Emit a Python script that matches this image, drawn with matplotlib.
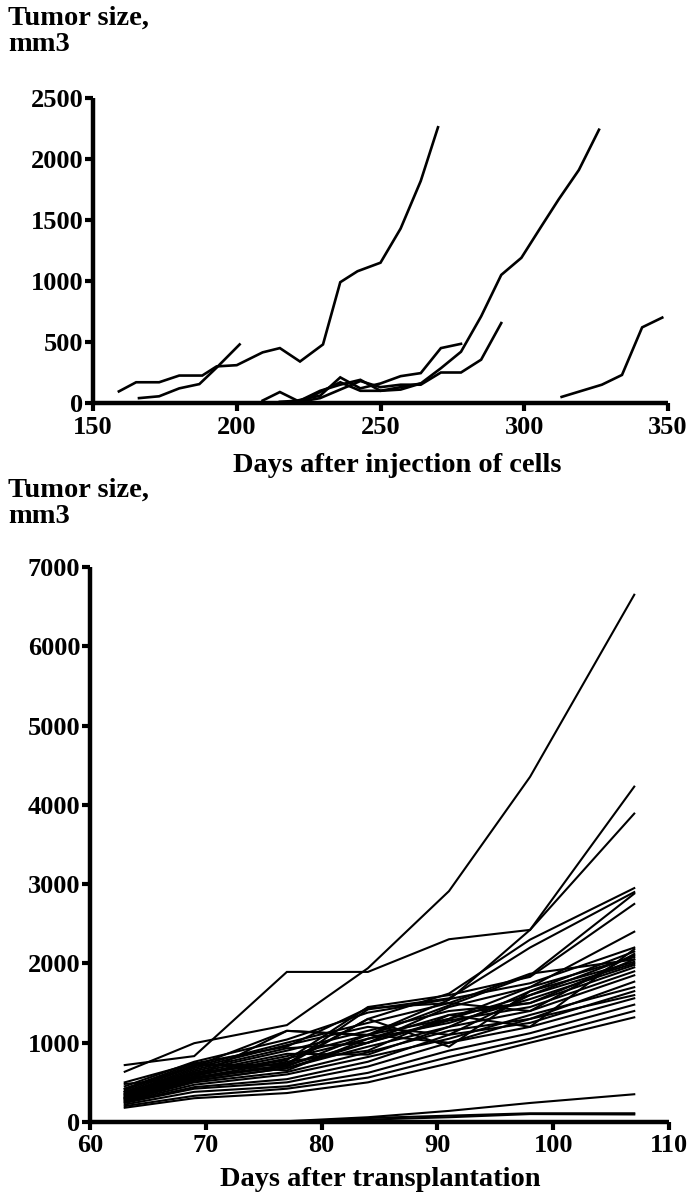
import matplotlib
matplotlib.use("Agg")
import matplotlib.pyplot as plt
import numpy as np

plt.rcParams['font.family'] = ['Liberation Serif', 'DejaVu Serif']
plt.rcParams['font.weight'] = 'bold'

# ---------------- Top panel data (days after injection) ----------------
top_x_ticks = [150, 200, 250, 300, 350]
top_y_ticks = [0, 500, 1000, 1500, 2000, 2500]

a_days = [159, 165, 173, 180, 188, 193, 200, 209, 215, 222, 230, 236, 242, 250, 257, 264, 270]
a_vals = [95, 170, 170, 225, 225, 300, 310, 415, 450, 340, 480, 990, 1080, 1150, 1430, 1820, 2260]
b_days = [166, 173, 180, 187, 193, 201]
b_vals = [40, 55, 120, 155, 290, 480]
c_days = [209, 215, 221, 229, 236, 243, 250, 257, 264, 271, 278]
c_vals = [20, 90, 20, 60, 210, 120, 160, 220, 245, 450, 485]
d_days = [222, 229, 236, 243, 250, 257, 264, 271, 278, 285, 292]
d_vals = [10, 40, 110, 180, 130, 150, 150, 250, 250, 355, 655]
e_days = [215, 222, 229, 236, 243, 250, 257, 264, 271, 278, 285, 292, 299, 306, 312, 319, 326]
e_vals = [10, 20, 100, 150, 190, 100, 110, 160, 285, 420, 710, 1050, 1190, 1450, 1670, 1910, 2240]
f_days = [313, 320, 327, 334, 341, 348]
f_vals = [50, 100, 150, 230, 620, 700]
g_days = [222, 229, 236, 243, 250, 257, 264]
g_vals = [0, 90, 170, 100, 100, 130, 160]

top_series = [(a_days, a_vals), (b_days, b_vals), (c_days, c_vals), (d_days, d_vals),
              (e_days, e_vals), (f_days, f_vals), (g_days, g_vals)]

# ---------------- Bottom panel data (days after transplantation) ----------------
bot_days = [63, 69, 77, 84, 91, 98, 107]
bot_x_ticks = [60, 70, 80, 90, 100, 110]
bot_y_ticks = [0, 1000, 2000, 3000, 4000, 5000, 6000, 7000]

s01 = [634, 994, 1222, 1940, 2912, 4353, 6650]
s02 = [718, 831, 1893, 1893, 2305, 2423, 4230]
s03 = [380, 560, 700, 1100, 1540, 2423, 3890]
s04 = [350, 620, 740, 1300, 1620, 2300, 2950]
s05 = [300, 560, 720, 1420, 1560, 2200, 2900]
s06 = [420, 700, 1150, 1090, 1470, 1850, 2880]
s07 = [380, 600, 780, 1450, 1600, 1830, 2750]
s08 = [300, 520, 680, 1000, 1300, 1700, 2400]
s09 = [180, 300, 365, 500, 740, 1000, 1320]
s10 = [200, 330, 420, 560, 820, 1050, 1400]
s11 = [220, 380, 450, 620, 900, 1120, 1480]
s12 = [240, 420, 500, 700, 1000, 1200, 1560]
s13 = [250, 440, 540, 760, 1100, 1250, 1650]
s14 = [260, 470, 600, 820, 1050, 1350, 1700]
s15 = [270, 500, 630, 880, 1150, 1300, 1770]
s16 = [280, 520, 680, 950, 1200, 1400, 1850]
s17 = [290, 540, 720, 1000, 1280, 1450, 1900]
s18 = [300, 560, 760, 900, 1350, 1500, 1950]
s19 = [310, 580, 800, 1050, 1250, 1550, 1980]
s20 = [320, 600, 830, 1100, 1300, 1600, 2000]
s21 = [330, 620, 860, 850, 1200, 1650, 2020]
s22 = [340, 640, 900, 1150, 1400, 1500, 2050]
s23 = [350, 660, 930, 1000, 1450, 1700, 2080]
s24 = [360, 680, 970, 1200, 1100, 1600, 2100]
s25 = [380, 700, 1000, 1250, 1500, 1400, 2120]
s26 = [400, 720, 720, 1300, 950, 1650, 2150]
s27 = [420, 740, 650, 1050, 1350, 1200, 2180]
s28 = [450, 760, 1040, 1380, 1550, 1750, 2200]
s29 = [480, 560, 1150, 1100, 1000, 1300, 1600]
s30 = [500, 740, 950, 1436, 1500, 1870, 2050]
s31 = [0, 0, 10, 60, 140, 240, 350]
s32 = [0, 0, 0, 50, 80, 110, 110]
s33 = [0, 0, 0, 30, 60, 100, 95]

bot_series = [s01, s02, s03, s04, s05, s06, s07, s08, s09, s10, s11, s12, s13, s14, s15,
              s16, s17, s18, s19, s20, s21, s22, s23, s24, s25, s26, s27, s28, s29, s30,
              s31, s32, s33]

W, H = 692, 1199
fig = plt.figure(figsize=(W / 100, H / 100), dpi=100)

def px_axes(left, top, right, bottom):
    return fig.add_axes([left / W, 1 - bottom / H, (right - left) / W, (bottom - top) / H])

def style(ax, xpad):
    for s in ['top', 'right']:
        ax.spines[s].set_visible(False)
    for s in ['left', 'bottom']:
        ax.spines[s].set_linewidth(3.2)
        ax.spines[s].set_capstyle('butt')
    ax.tick_params(direction='out', length=6, width=3.0, pad=1, colors='black')
    ax.tick_params(axis='x', pad=xpad)
    for lab in ax.get_xticklabels() + ax.get_yticklabels():
        lab.set_fontfamily('Liberation Serif')
        lab.set_fontweight('bold')
        lab.set_fontsize(19)

# Top panel
ax1 = px_axes(93, 98, 668, 403)
for dx, vy in top_series:
    ax1.plot(dx, vy, color='black', lw=1.9, solid_joinstyle='miter', clip_on=False)
ax1.set_xlim(150, 350)
ax1.set_ylim(0, 2500)
ax1.set_xticks(top_x_ticks)
ax1.set_yticks(top_y_ticks)
style(ax1, 3)

# Bottom panel
ax2 = px_axes(90, 567, 669, 1122)
for vy in bot_series:
    ax2.plot(bot_days, vy, color='black', lw=1.5, solid_joinstyle='miter', clip_on=False)
ax2.set_xlim(60, 110)
ax2.set_ylim(0, 7000)
ax2.set_xticks(bot_x_ticks)
ax2.set_yticks(bot_y_ticks)
style(ax2, 3)

lab_font = dict(family='Liberation Serif', weight='bold', size=20.5)
fig.text(8 / W, 1 - 6 / H, "Tumor size,\nmm3", ha='left', va='top', linespacing=1.05, **lab_font)
fig.text(8 / W, 1 - 478 / H, "Tumor size,\nmm3", ha='left', va='top', linespacing=1.05, **lab_font)
fig.text(397 / W, 1 - 466 / H, "Days after injection of cells", ha='center', va='center', **lab_font)
fig.text(380 / W, 1 - 1180 / H, "Days after transplantation", ha='center', va='center', **lab_font)

fig.savefig("out.png", dpi=100)
